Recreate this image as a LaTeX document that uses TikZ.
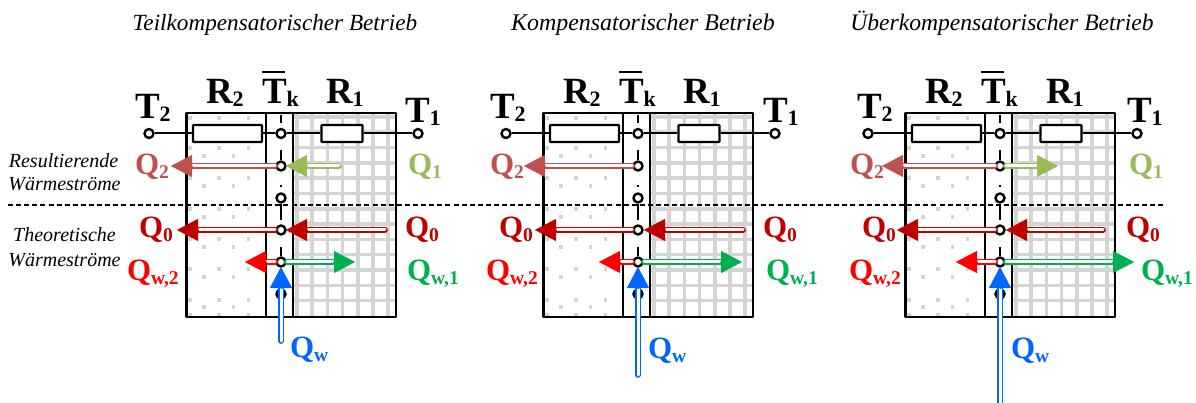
\documentclass[tikz,border=0pt]{standalone}
\usepackage{fontspec}
\setmainfont{Liberation Serif}
\usetikzlibrary{arrows.meta}
\definecolor{colA}{HTML}{C0504D}
\definecolor{colB}{HTML}{9BBB59}
\definecolor{colC}{HTML}{C00000}
\definecolor{colD}{HTML}{FF0000}
\definecolor{colE}{HTML}{00B050}
\definecolor{colF}{HTML}{0066FF}
\definecolor{gridgray}{HTML}{D4D4D4}
\newcommand{\bigsym}[2]{{\fontsize{37}{37}\selectfont\bfseries #1\raisebox{-3pt}{\fontsize{22}{22}\selectfont #2}}}
\newcommand{\qsym}[2]{{\fontsize{31}{31}\selectfont\bfseries Q\raisebox{-4pt}{\fontsize{19.5}{19.5}\selectfont #2}}}
\tikzset{
  x=1pt,y=-1pt,
  lab/.style={anchor=base west,inner sep=0pt,outer sep=0pt},
  caption/.style={anchor=base,inner sep=0pt,outer sep=0pt,font=\fontsize{#1}{#1}\selectfont\itshape},
  sidetext/.style={anchor=base,inner sep=0pt,outer sep=0pt,font=\fontsize{20}{20}\selectfont\itshape},
  wire/.style={draw=black,line width=2pt},
  wall/.style={draw=black,line width=2.2pt},
  outerwall/.style={draw=black,line width=2.8pt,line join=round},
  resistor/.style={draw=black,fill=white,line width=2.2pt,rectangle,inner sep=0pt,rounded corners=0.6pt},
  port/.style={draw=black,fill=white,line width=2.4pt,circle,inner sep=0pt,minimum size=9pt},
  axisline/.style={draw=black,line width=2.2pt},
  gridline/.style={draw=gridgray,line width=3.6pt},
  shaft/.style={draw=#1,line width=1.4pt,double=white,double distance=3pt,line cap=round},
  headtip/.style={draw=#1,fill=#1,line width=0.1pt,-{Triangle[length=21pt,width=22pt,fill=#1,color=#1]}},
  sepline/.style={draw=black,line width=2.4pt,dash pattern=on 5pt off 3.1pt},
}
% \flowarrow{prefix}{colour}{tail}{neck}{head}
\newcommand{\flowarrow}[5]{%
  \coordinate (#1tail) at (#3);
  \coordinate (#1neck) at (#4);
  \coordinate (#1head) at (#5);
  \draw[shaft=#2] (#1tail) -- (#1neck);
  \draw[headtip=#2] (#1neck) -- (#1head);
}
\newcommand{\panelbase}[1]{%
\begin{scope}[xshift=#1pt]
  % grid
  \foreach \gx in {297,312.2,327.4,342.6,357.8,373,388.2}
    \draw[gridline] (\gx,114) -- (\gx,316);
  \foreach \gy in {117,132.3,147.6,162.9,178.2,193.5,208.8,224.1,239.4,254.7,270,285.3,300.6}
    \draw[gridline] (294,\gy) -- (395,\gy);
  % dots
  \foreach \dy in {118,148,178,209,239,269,300,315}
    \foreach \dx in {190,219,248.5}
      \fill[gridgray] (\dx-1.8,\dy-1.8) rectangle (\dx+1.8,\dy+1.8);
  \foreach \dy in {126,156,186,217,247,277,307}
    \foreach \dx in {204,233.5}
      \fill[gridgray] (\dx-1.8,\dy-1.8) rectangle (\dx+1.8,\dy+1.8);
  % walls
  \draw[wall] (266,113) -- (266,317);
  \draw[wall] (293,113) -- (293,317);
  \draw[outerwall] (186.5,113) rectangle (396,317);
  % nodes
  \node[port] (t2) at (149,133.5) {};
  \node[port] (t1) at (418,133.5) {};
  \node[port] (c0) at (281,133.5) {};
  \node[port] (c1) at (281,166) {};
  \node[port] (c2) at (281,198) {};
  \node[port] (c3) at (281,230) {};
  \node[port] (c4) at (281,262) {};
  \node[port] (c5) at (281,294) {};
  \node[resistor,minimum width=69pt,minimum height=17pt] (r2) at (227.5,133.5) {};
  \node[resistor,minimum width=41pt,minimum height=17pt] (r1) at (342,133.5) {};
  \draw[wire] (t2) -- (r2);
  \draw[wire] (r2) -- (c0);
  \draw[wire] (c0) -- (r1);
  \draw[wire] (r1) -- (t1);
  % axis pieces
  \coordinate (a0) at (281,115);
  \coordinate (a1) at (281,123);
  \coordinate (a2) at (281,150);
  \coordinate (a3) at (281,220);
  \coordinate (a4) at (281,247);
  \coordinate (a5) at (281,317);
  \draw[axisline] (a0) -- (a1);
  \draw[axisline] (a2) -- (c1);
  \draw[axisline] (c2) -- (a3);
  \draw[axisline] (a4) -- (c4);
  \draw[axisline] (c5) -- (a5);
  \fill[black] (280,185) rectangle (282,187);
  % bar over T
  \coordinate (barL) at (262,72);
  \coordinate (barR) at (285,72);
  \draw[draw=black,line width=2.8pt] (barL) -- (barR);
\end{scope}}
\begin{document}
\begin{tikzpicture}
\useasboundingbox (0,0) rectangle (1196,403);
\fill[white] (0,0) rectangle (1196,403);

\begin{scope}[name prefix=p1-]
\panelbase{0}
\node[lab] (lt2) at (135,119) {\bigsym{T}{2}};
\node[lab] (lr2) at (206,104) {\bigsym{R}{2}};
\node[lab] (ltk) at (262,104) {\bigsym{T}{k}};
\node[lab] (lr1) at (326,104) {\bigsym{R}{1}};
\node[lab] (lt1) at (405,123) {\bigsym{T}{1}};
\flowarrow{fa}{colA}{275,166}{192,166}{171,166}
\flowarrow{fb}{colB}{339,166}{308,166}{286,166}
\flowarrow{fc}{colC}{275,230}{199,230}{177,230}
\flowarrow{fd}{colC}{385,230}{308,230}{286,230}
\flowarrow{fe}{colD}{275,262}{267,262}{245,262}
\flowarrow{ff}{colE}{287,262}{333,262}{355,262}
\flowarrow{fg}{colF}{281,341}{281,289}{281,267}
\node[lab,colA] (qa) at (135,175) {\qsym{Q}{2}};
\node[lab,colB] (qb) at (408,175) {\qsym{Q}{1}};
\node[lab,colC] (qc) at (139,238) {\qsym{Q}{0}};
\node[lab,colC] (qd) at (405,238) {\qsym{Q}{0}};
\node[lab,colD] (qe) at (127,280) {\qsym{Q}{w,2}};
\node[lab,colE] (qf) at (407,280) {\qsym{Q}{w,1}};
\node[lab,colF] (qg) at (290,357) {\qsym{Q}{w}};
\end{scope}

\begin{scope}[name prefix=p2-]
\panelbase{357}
\node[lab] (lt2) at (490,119) {\bigsym{T}{2}};
\node[lab] (lr2) at (563,104) {\bigsym{R}{2}};
\node[lab] (ltk) at (619,104) {\bigsym{T}{k}};
\node[lab] (lr1) at (683,104) {\bigsym{R}{1}};
\node[lab] (lt1) at (763,123) {\bigsym{T}{1}};
\flowarrow{fa}{colA}{632,166}{545,166}{524,166}
\flowarrow{fc}{colC}{632,230}{557,230}{535,230}
\flowarrow{fd}{colC}{743,230}{666,230}{644,230}
\flowarrow{fe}{colD}{632,262}{621,262}{599,262}
\flowarrow{ff}{colE}{644,262}{720,262}{742,262}
\flowarrow{fg}{colF}{638,375}{638,289}{638,267}
\node[lab,colA] (qa) at (490,175) {\qsym{Q}{2}};
\node[lab,colC] (qc) at (499,238) {\qsym{Q}{0}};
\node[lab,colC] (qd) at (763,238) {\qsym{Q}{0}};
\node[lab,colD] (qe) at (486,280) {\qsym{Q}{w,2}};
\node[lab,colE] (qf) at (766,280) {\qsym{Q}{w,1}};
\node[lab,colF] (qg) at (648,358) {\qsym{Q}{w}};
\end{scope}

\begin{scope}[name prefix=p3-]
\panelbase{719}
\node[lab] (lt2) at (857,119) {\bigsym{T}{2}};
\node[lab] (lr2) at (925,104) {\bigsym{R}{2}};
\node[lab] (ltk) at (981,104) {\bigsym{T}{k}};
\node[lab] (lr1) at (1046,104) {\bigsym{R}{1}};
\node[lab] (lt1) at (1127,123) {\bigsym{T}{1}};
\flowarrow{fa}{colA}{995,166}{903,166}{882,166}
\flowarrow{fb}{colB}{1006,166}{1037,166}{1058,166}
\flowarrow{fc}{colC}{995,230}{917,230}{897,230}
\flowarrow{fd}{colC}{1103,230}{1028,230}{1006,230}
\flowarrow{fe}{colD}{995,262}{978,262}{956,262}
\flowarrow{ff}{colE}{1006,262}{1112,262}{1134,262}
\flowarrow{fg}{colF}{1000,410}{1000,289}{1000,267}
\node[lab,colA] (qa) at (850,175) {\qsym{Q}{2}};
\node[lab,colB] (qb) at (1129,175) {\qsym{Q}{1}};
\node[lab,colC] (qc) at (862,238) {\qsym{Q}{0}};
\node[lab,colC] (qd) at (1126,238) {\qsym{Q}{0}};
\node[lab,colD] (qe) at (849,280) {\qsym{Q}{w,2}};
\node[lab,colE] (qf) at (1141,280) {\qsym{Q}{w,1}};
\node[lab,colF] (qg) at (1011,358) {\qsym{Q}{w}};
\end{scope}

% separator
\coordinate (sepL) at (8,205.3);
\coordinate (sepR) at (1166,205.3);
\draw[sepline] (sepL) -- (sepR);

% captions
\node[caption=23.2] (title1) at (275,31) {Teilkompensatorischer Betrieb};
\node[caption=23.9] (title2) at (643,31) {Kompensatorischer Betrieb};
\node[caption=23.6] (title3) at (1002,31) {Überkompensatorischer Betrieb};
\node[sidetext] (side1) at (63.5,168) {Resultierende};
\node[sidetext] (side2) at (64.5,191) {Wärmeströme};
\node[sidetext] (side3) at (64.5,242) {Theoretische};
\node[sidetext] (side4) at (64.5,266) {Wärmeströme};
\end{tikzpicture}
\end{document}
